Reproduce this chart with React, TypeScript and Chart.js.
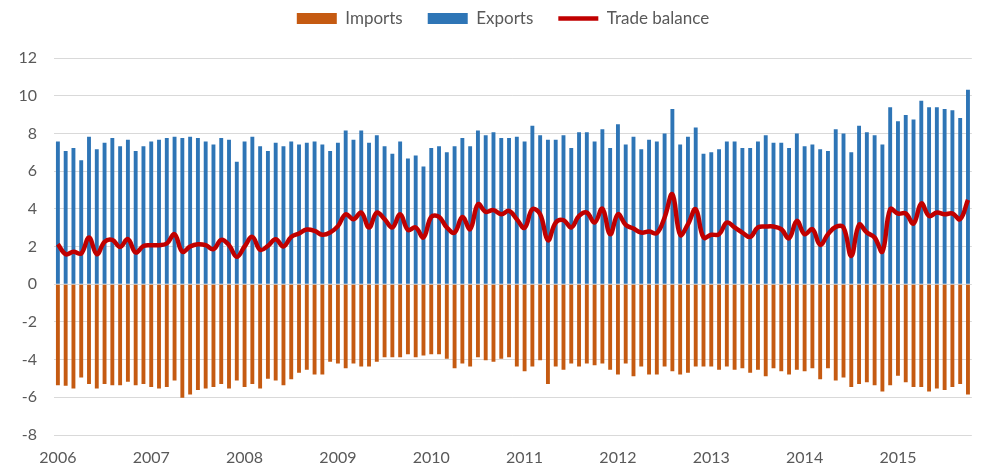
import React, { useEffect, useRef } from "react";
import { Chart, registerables } from "chart.js";

Chart.register(...registerables);

const years = [2006, 2007, 2008, 2009, 2010, 2011, 2012, 2013, 2014, 2015];
const monthCount = 118; // Jan 2006 .. Oct 2015

const exportsData = [
  7.57, 7.07, 7.23, 6.58, 7.82, 7.16, 7.5, 7.75, 7.32, 7.66, 7.07, 7.32,
  7.57, 7.66, 7.75, 7.82, 7.75, 7.82, 7.75, 7.57, 7.41, 7.75, 7.66, 6.49,
  7.57, 7.82, 7.32, 7.07, 7.5, 7.32, 7.57, 7.41, 7.5, 7.57, 7.41, 7.07,
  7.5, 8.15, 7.66, 8.15, 7.5, 7.9, 7.32, 6.92, 7.57, 6.67, 6.83, 6.24,
  7.23, 7.32, 7.0, 7.32, 7.75, 7.32, 8.15, 7.9, 8.06, 7.75, 7.75, 7.82,
  7.57, 8.4, 7.9, 7.66, 7.66, 7.9, 7.23, 8.06, 8.06, 7.57, 8.22, 7.23,
  8.49, 7.41, 7.82, 7.16, 7.66, 7.57, 7.99, 9.3, 7.41, 7.82, 8.31, 6.92,
  7.0, 7.16, 7.57, 7.57, 7.23, 7.23, 7.57, 7.9, 7.5, 7.5, 7.23, 7.99,
  7.32, 7.41, 7.16, 7.07, 8.22, 7.99, 7.0, 8.4, 8.06, 7.9, 7.41, 9.39,
  8.65, 8.98, 8.74, 9.73, 9.39, 9.39, 9.3, 9.23, 8.82, 10.31,
];

const importsData = [
  -5.36, -5.39, -5.53, -4.95, -5.29, -5.53, -5.29, -5.36, -5.36, -5.18, -5.36, -5.29,
  -5.45, -5.53, -5.45, -5.11, -6.03, -5.85, -5.61, -5.53, -5.45, -5.29, -5.53, -5.11,
  -5.45, -5.29, -5.53, -5.02, -5.11, -5.36, -5.04, -4.7, -4.54, -4.79, -4.79, -4.12,
  -4.21, -4.46, -4.21, -4.37, -4.37, -4.12, -3.87, -3.87, -3.87, -3.71, -3.87, -3.78,
  -3.71, -3.71, -3.96, -4.46, -4.21, -4.37, -3.87, -4.03, -4.12, -3.96, -3.87, -4.37,
  -4.62, -4.37, -4.03, -5.29, -4.37, -4.54, -4.21, -4.37, -4.21, -4.3, -4.21, -4.54,
  -4.79, -4.21, -4.88, -4.37, -4.79, -4.79, -4.37, -4.62, -4.79, -4.7, -4.37, -4.37,
  -4.37, -4.54, -4.37, -4.54, -4.46, -4.7, -4.54, -4.88, -4.46, -4.62, -4.79, -4.54,
  -4.62, -4.46, -5.04, -4.46, -5.11, -4.95, -5.45, -5.29, -5.2, -5.36, -5.69, -5.36,
  -4.86, -5.2, -5.45, -5.45, -5.69, -5.53, -5.61, -5.45, -5.29, -5.85,
];

const balanceData = [
  2.12, 1.59, 1.72, 1.63, 2.48, 1.59, 2.25, 2.35, 1.98, 2.39, 1.68, 2.03,
  2.07, 2.07, 2.16, 2.65, 1.72, 2.0, 2.12, 2.07, 1.86, 2.35, 2.07, 1.45,
  2.0, 2.51, 1.82, 2.03, 2.39, 2.0, 2.51, 2.69, 2.9, 2.83, 2.62, 2.74,
  3.08, 3.71, 3.45, 3.8, 3.01, 3.8, 3.45, 3.01, 3.71, 2.88, 3.01, 2.48,
  3.57, 3.57, 3.01, 2.74, 3.57, 2.92, 4.24, 3.84, 3.93, 3.71, 3.89, 3.45,
  2.99, 3.98, 3.71, 2.33, 3.27, 3.4, 3.01, 3.62, 3.8, 3.27, 4.01, 2.65,
  3.71, 3.15, 2.95, 2.74, 2.79, 2.71, 3.54, 4.77, 2.62, 3.18, 3.98, 2.48,
  2.62, 2.65, 3.27, 3.01, 2.74, 2.51, 3.01, 3.06, 3.06, 2.92, 2.44, 3.36,
  2.65, 2.92, 2.09, 2.65, 3.04, 3.01, 1.5, 3.15, 2.74, 2.48, 1.73, 3.98,
  3.75, 3.75, 3.22, 4.28, 3.62, 3.8, 3.71, 3.75, 3.45, 4.47,
];

const categories: string[] = [];
for (let i = 0; i < monthCount; i++) {
  const y = years[Math.floor(i / 12)];
  const m = (i % 12) + 1;
  categories.push(`${y}-${m < 10 ? "0" + m : m}`);
}

const IMPORT_COLOR = "#C55A11";
const EXPORT_COLOR = "#2E75B6";
const BALANCE_COLOR = "#C00000";
const TEXT_COLOR = "#595959";
const GRID_COLOR = "#D9D9D9";
const FONT = "Lato, 'Liberation Sans', sans-serif";

const legendSpacer = {
  id: "legendSpacer",
  beforeInit(chart: any) {
    const legend = chart.legend;
    if (!legend) return;
    const origFit = legend.fit;
    legend.fit = function () {
      origFit.call(this);
      this.height += 21;
    };
    const origDraw = legend.draw;
    legend.draw = function () {
      const ctx = this.ctx;
      ctx.save();
      ctx.translate(17, 0);
      origDraw.call(this);
      ctx.restore();
    };
  },
};

export default function App() {
  const canvasRef = useRef<HTMLCanvasElement | null>(null);

  useEffect(() => {
    if (!canvasRef.current) return;
    const chart = new Chart(canvasRef.current, {
      type: "bar",
      plugins: [legendSpacer],
      data: {
        labels: categories,
        datasets: [
          {
            type: "bar",
            label: "Imports",
            data: importsData,
            backgroundColor: IMPORT_COLOR,
            borderWidth: 0,
            categoryPercentage: 1,
            barPercentage: 0.5,
            pointStyle: "rect",
            order: 1,
          },
          {
            type: "bar",
            label: "Exports",
            data: exportsData,
            backgroundColor: EXPORT_COLOR,
            borderWidth: 0,
            categoryPercentage: 1,
            barPercentage: 0.5,
            pointStyle: "rect",
            order: 1,
          },
          {
            type: "line",
            label: "Trade balance",
            data: balanceData,
            borderColor: BALANCE_COLOR,
            backgroundColor: BALANCE_COLOR,
            borderWidth: 4.5,
            pointRadius: 0,
            pointStyle: "line",
            tension: 0.4,
            fill: false,
            order: 0,
          },
        ] as any,
      },
      options: {
        animation: false,
        responsive: true,
        maintainAspectRatio: false,
        layout: { padding: { top: -15, right: 9, left: 0, bottom: 0 } },
        plugins: {
          tooltip: { enabled: false },
          legend: {
            position: "top",
            labels: {
              usePointStyle: true,
              pointStyleWidth: 40,
              boxWidth: 40,
              boxHeight: 11,
              padding: 25,
              color: TEXT_COLOR,
              font: { family: FONT, size: 17 },
              sort: (a: any, b: any) => a.datasetIndex - b.datasetIndex,
            },
          },
        },
        scales: {
          x: {
            stacked: true,
            grid: { display: false, drawTicks: false },
            border: { display: false },
            ticks: {
              autoSkip: false,
              maxRotation: 0,
              padding: 13,
              color: TEXT_COLOR,
              font: { family: FONT, size: 16 },
              callback: (_v: any, i: number) => (i % 12 === 0 ? String(years[i / 12]) : ""),
            },
            afterFit: (s: any) => {
              s.height = 31;
            },
          },
          y: {
            min: -8,
            max: 12,
            grid: { color: GRID_COLOR, lineWidth: 1, drawTicks: false },
            border: { display: false },
            ticks: {
              stepSize: 2,
              padding: 17,
              color: TEXT_COLOR,
              font: { family: FONT, size: 16 },
            },
            afterFit: (s: any) => {
              s.width = 54;
            },
          },
        },
      } as any,
    });
    return () => chart.destroy();
  }, []);

  return (
    <div style={{ position: "absolute", left: 0, top: 0, width: 981, height: 466 }}>
      <canvas ref={canvasRef} />
    </div>
  );
}
